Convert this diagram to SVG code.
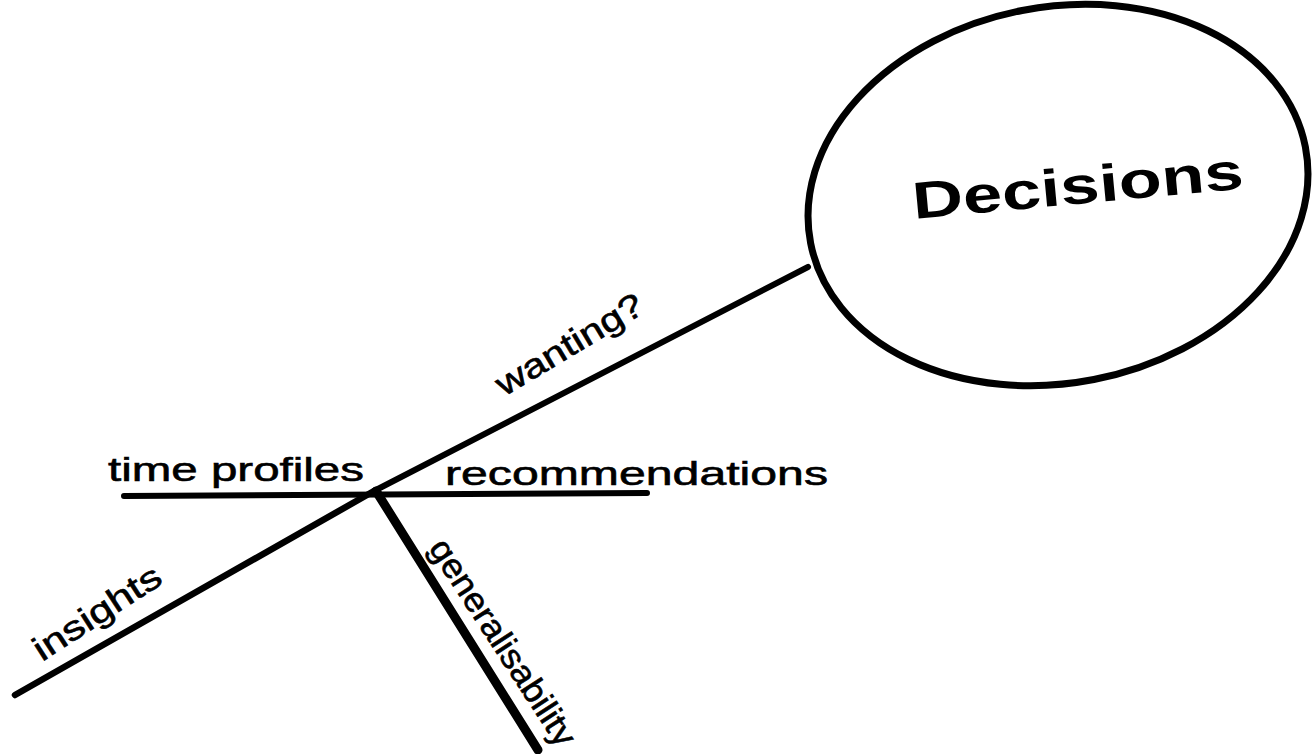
<svg xmlns="http://www.w3.org/2000/svg" width="1314" height="754" viewBox="0 0 1314 754">
  <style>
    .ln { stroke: #000; fill: none; stroke-linecap: round; }
    .lbl { font-family: "Liberation Sans", Arial, sans-serif; font-size: 34px; fill: #000; stroke: #000; stroke-width: 0.6px; }
    .big { font-family: "Liberation Sans", Arial, sans-serif; font-size: 52px; font-weight: bold; fill: #000; }
  </style>
  <rect width="1314" height="754" fill="#fff"/>
  <g id="connectors">
    <line class="ln" x1="808" y1="267" x2="374" y2="491" stroke-width="6"/>
    <line class="ln" x1="15" y1="695" x2="374" y2="491" stroke-width="6.5"/>
    <line class="ln" x1="124" y1="496" x2="647" y2="493" stroke-width="6"/>
    <line class="ln" x1="376" y1="491" x2="538" y2="750" stroke-width="9"/>
  </g>
  <g id="decisions">
    <ellipse cx="1058" cy="195" rx="252" ry="188" transform="rotate(-11 1058 195)" fill="none" stroke="#000" stroke-width="7"/>
    <text class="big" transform="translate(914 219) rotate(-5.3)" textLength="332" lengthAdjust="spacingAndGlyphs">Decisions</text>
  </g>
  <g id="wanting">
    <text class="lbl" transform="translate(504 397) rotate(-31)" textLength="166" lengthAdjust="spacingAndGlyphs">wanting?</text>
  </g>
  <g id="time-profiles">
    <text class="lbl" x="108" y="481" textLength="256" lengthAdjust="spacingAndGlyphs">time profiles</text>
  </g>
  <g id="recommendations">
    <text class="lbl" x="445" y="485" textLength="383" lengthAdjust="spacingAndGlyphs">recommendations</text>
  </g>
  <g id="insights">
    <text class="lbl" transform="translate(42 662) rotate(-33)" textLength="146" lengthAdjust="spacingAndGlyphs">insights</text>
  </g>
  <g id="generalisability">
    <text class="lbl" transform="translate(428 548) rotate(57)" textLength="240" lengthAdjust="spacingAndGlyphs">generalisability</text>
  </g>
</svg>
